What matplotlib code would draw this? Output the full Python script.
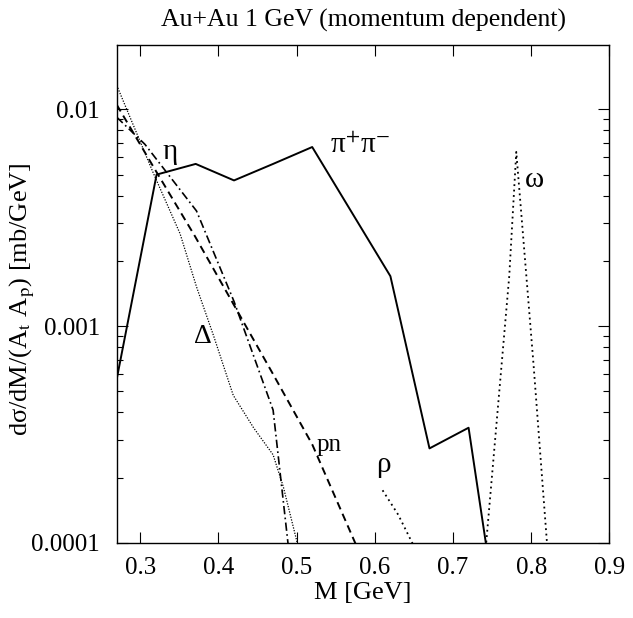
import numpy as np
import matplotlib
matplotlib.use('Agg')
import matplotlib.pyplot as plt
from matplotlib.ticker import FixedLocator, NullFormatter, LogLocator

plt.rcParams['font.family'] = ['Liberation Serif', 'DejaVu Serif']
plt.rcParams['mathtext.fontset'] = 'stix'

# pi+ pi- (solid)
m_pipi = [0.27, 0.321, 0.371, 0.42, 0.47, 0.52, 0.62, 0.67, 0.72, 0.745]
y_pipi = [5.7e-4, 5.0e-3, 5.6e-3, 4.7e-3, 5.6e-3, 6.7e-3, 1.7e-3, 2.73e-4, 3.4e-4, 8.5e-5]

# eta Dalitz (dash-dot)
m_eta = [0.27, 0.306, 0.372, 0.42, 0.47, 0.489, 0.495]
y_eta = [9.2e-3, 6.9e-3, 3.4e-3, 1.3e-3, 4.1e-4, 1.0e-4, 7.0e-5]

# Delta Dalitz (fine dotted)
m_delta = [0.27, 0.317, 0.351, 0.372, 0.394, 0.419, 0.445, 0.47, 0.483, 0.5, 0.505]
y_delta = [1.29e-2, 5.06e-3, 2.67e-3, 1.52e-3, 9.0e-4, 4.8e-4, 3.4e-4, 2.55e-4, 1.82e-4, 1.03e-4, 8.5e-5]

# pn bremsstrahlung (dashed)
m_pn = [0.27, 0.32, 0.37, 0.42, 0.47, 0.52, 0.575, 0.585]
y_pn = [1.05e-2, 5.2e-3, 2.6e-3, 1.25e-3, 6.0e-4, 2.85e-4, 1.0e-4, 8.5e-5]

# rho (sparse dotted)
m_rho = [0.61, 0.63, 0.648, 0.652]
y_rho = [1.75e-4, 1.35e-4, 1.0e-4, 9.5e-5]

# omega (sparse dotted)
m_omega = [0.742, 0.772, 0.781, 0.803, 0.82, 0.823]
y_omega = [9.5e-5, 1.7e-3, 6.36e-3, 6.7e-4, 1.03e-4, 9.0e-5]

fig = plt.figure(figsize=(6.33, 6.18), dpi=100)
ax = fig.add_axes([0.1844, 0.1214, 0.7782, 0.8058])

ax.plot(m_pipi, y_pipi, color='black', lw=1.4, ls='-')
ax.plot(m_eta, y_eta, color='black', lw=1.2, dashes=(5, 2, 1, 2))
ax.plot(m_delta, y_delta, color='black', lw=0.9, dashes=(1, 1.2))
ax.plot(m_pn, y_pn, color='black', lw=1.4, dashes=(4, 2.5))
ax.plot(m_rho, y_rho, color='black', lw=1.3, dashes=(1, 2))
ax.plot(m_omega, y_omega, color='black', lw=1.3, dashes=(1, 2))

ax.set_yscale('log')
ax.set_xlim(0.27, 0.9)
ax.set_ylim(1e-4, 0.0198)

ax.xaxis.set_major_locator(FixedLocator([0.3, 0.4, 0.5, 0.6, 0.7, 0.8, 0.9]))
ax.set_xticklabels(['0.3', '0.4', '0.5', '0.6', '0.7', '0.8', '0.9'])
ax.yaxis.set_major_locator(FixedLocator([1e-4, 1e-3, 1e-2]))
ax.set_yticklabels(['0.0001', '0.001', '0.01'])
ax.yaxis.set_minor_locator(LogLocator(base=10, subs=np.arange(2, 10)))
ax.yaxis.set_minor_formatter(NullFormatter())

ax.tick_params(which='both', direction='in', top=True, right=True, labelsize=18)
ax.tick_params(axis='x', pad=10)
ax.tick_params(axis='y', pad=12)
ax.tick_params(which='major', length=8, width=0.8)
ax.tick_params(which='minor', length=4, width=0.8)
for s in ax.spines.values():
    s.set_linewidth(1.0)

ax.set_title('Au+Au 1 GeV (momentum dependent)', fontsize=18.5, pad=13)
ax.set_xlabel('M [GeV]', fontsize=19)
ax.xaxis.set_label_coords(0.5, -0.079)
ax.set_ylabel('dσ/dM/(A$_{\\mathrm{t}}$ A$_{\\mathrm{p}}$) [mb/GeV]', fontsize=19)
ax.yaxis.set_label_coords(-0.162, 0.49)

ax.text(0.328, 0.0059, 'η', fontsize=21)
ax.text(0.543, 0.0063, 'π$^{+}$π$^{-}$', fontsize=21)
ax.text(0.792, 0.00437, 'ω', fontsize=21)
ax.text(0.369, 0.00084, 'Δ', fontsize=20)
ax.text(0.526, 0.000265, 'pn', fontsize=18)
ax.text(0.602, 0.000212, 'ρ', fontsize=21)

fig.savefig('out.png', dpi=100)
